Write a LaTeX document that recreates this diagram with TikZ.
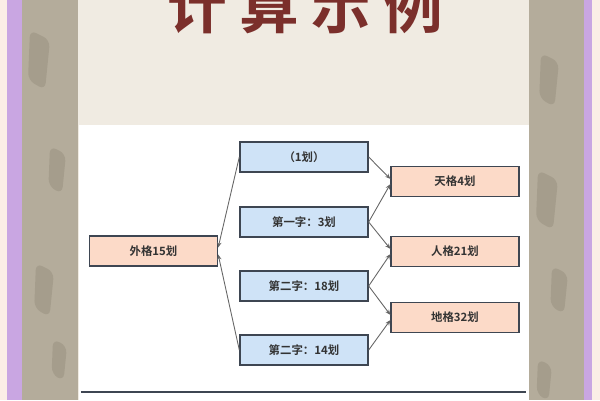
\documentclass[tikz,border=0pt]{standalone}
\usepackage{fontspec}
\newfontfamily\cjk[BoldFont={Noto Sans CJK SC Bold}]{Noto Sans CJK SC}
\usepackage{tikz}
\usetikzlibrary{arrows.meta}

\definecolor{paper}{HTML}{F0EBE2}
\definecolor{strip}{HTML}{B4AC9B}
\definecolor{ink}{HTML}{9C9483}
\definecolor{lilac}{HTML}{C9A6E2}
\definecolor{blush}{HTML}{FBEEE6}
\definecolor{boxblue}{HTML}{CFE3F7}
\definecolor{boxpeach}{HTML}{FCDAC8}
\definecolor{boxline}{HTML}{3E4652}
\definecolor{titlered}{HTML}{7B2F2B}

\tikzset{
    stroke/.style={boxline, line width=0.9pt},
    bluebox/.style={draw=boxline, fill=boxblue, line width=0.8pt, minimum width=2.56cm, minimum height=0.6cm, inner sep=0pt, font=\cjk\bfseries\fontsize{6.5}{7}\selectfont, text=black!80},
    peachbox/.style={bluebox, fill=boxpeach},
    link/.style={draw=gray!80!black, line width=0.5pt, -{Stealth[length=3pt,width=2.5pt]}},
}

\begin{document}
\begin{tikzpicture}[x=0.02cm,y=-0.02cm]
    \useasboundingbox (0,0) rectangle (600,400);
    \clip (0,0) rectangle (600,400);
    % frame and background
    \fill[blush] (0,0) rectangle (600,400);
    \fill[lilac] (7,0) rectangle (592,400);
    \fill[strip] (22,0) rectangle (584,400);
    \fill[paper] (78,0) rectangle (529,400);
    \fill[white] (79,125) rectangle (529,400);
    % brush strokes on the side strips
    \foreach \x/\y/\r in {40/60/10, 58/170/8, 45/290/9, 60/360/7, 550/80/9, 548/200/10, 560/290/8, 545/380/7}
        \fill[ink, opacity=0.6, rounded corners=4pt] (\x-\r,\y-3*\r) -- (\x+\r,\y-2*\r) -- (\x+0.5*\r,\y+3*\r) -- (\x-1.2*\r,\y+2*\r) -- cycle;
    % title
    \node[anchor=base, text=titlered, font=\cjk\bfseries\fontsize{34}{34}\selectfont] (title) at (305,28) {计\hspace{7pt}算\hspace{7pt}示\hspace{7pt}例};
    % boxes
    \node[peachbox] (wai) at (153.5,251) {外格15划};
    \node[bluebox] (one) at (304,157) {（1划）};
    \node[bluebox] (first) at (304,222) {第一字：3划};
    \node[bluebox] (second) at (304,286) {第二字：18划};
    \node[bluebox] (third) at (304,350) {第二字：14划};
    \node[peachbox] (tian) at (455,181.5) {天格4划};
    \node[peachbox] (ren) at (455,251.5) {人格21划};
    \node[peachbox] (di) at (455,317.5) {地格32划};
    % connectors
    \draw[link] (one.west) -- ([yshift=2pt]wai.east);
    \draw[link] (third.west) -- ([yshift=-2pt]wai.east);
    \draw[link] (one.east) -- ([yshift=1.5pt]tian.west);
    \draw[link] (first.east) -- ([yshift=-1.5pt]tian.west);
    \draw[link] (first.east) -- ([yshift=1.5pt]ren.west);
    \draw[link] (second.east) -- ([yshift=-1.5pt]ren.west);
    \draw[link] (second.east) -- ([yshift=1.5pt]di.west);
    \draw[link] (third.east) -- ([yshift=-1.5pt]di.west);
    % rule at the bottom
    \coordinate (rulel) at (81,392);
    \coordinate (ruler) at (526,392);
    \draw[stroke, line width=1.2pt] (rulel) -- (ruler);
\end{tikzpicture}
\end{document}
